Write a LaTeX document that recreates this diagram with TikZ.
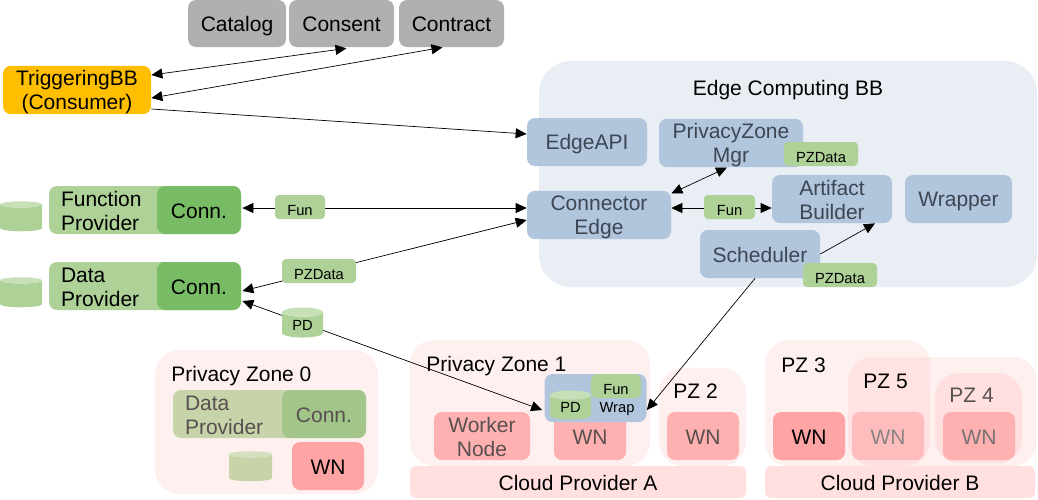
\documentclass[tikz,border=0pt]{standalone}
\usepackage{fontspec}
\setmainfont{Liberation Sans}
\usetikzlibrary{arrows.meta,calc,shapes.geometric}
\definecolor{greybox}{HTML}{B0B0B0}
\definecolor{amberbox}{HTML}{FFBF00}
\definecolor{edgebg}{HTML}{E9EEF5}
\definecolor{bluebox}{HTML}{B1C5DC}
\definecolor{bluetxt}{HTML}{3D4654}
\definecolor{greenbox}{HTML}{AED197}
\definecolor{greentop}{HTML}{C8E0B8}
\definecolor{connbox}{HTML}{78BD66}
\definecolor{fadegreen}{HTML}{C7D3A9}
\definecolor{fadeconn}{HTML}{A2C589}
\definecolor{fadecyl}{HTML}{C8D3A9}
\definecolor{fadecyltop}{HTML}{D5DFBF}
\definecolor{fadetxt}{HTML}{585050}
\definecolor{wnbox}{HTML}{FFB0B0}
\definecolor{wnstrong}{HTML}{FFA4A4}
\definecolor{cloudbox}{HTML}{FFDFDF}
\tikzset{
  big/.style={font=\fontsize{21}{24}\selectfont,
    execute at begin node={\rule{0pt}{20pt}},execute at end node={\rule[-4pt]{0pt}{4pt}}},
  small/.style={font=\fontsize{14.7}{17}\selectfont,
    execute at begin node={\rule{0pt}{20pt}},execute at end node={\rule[-4pt]{0pt}{4pt}}},
  title/.style={big,inner sep=0,anchor=west},
  box/.style={big,rounded corners=8,inner sep=0,align=center},
  label box/.style={small,rounded corners=4,inner sep=0,fill=greenbox,minimum height=24},
  zone/.style={rounded corners=24,inner sep=0,fill=red,fill opacity=0.06},
  wn/.style={box,minimum width=72,minimum height=48,text=fadetxt,fill=wnbox},
  store/.style={cylinder,shape border rotate=90,aspect=0.45,inner sep=0,minimum width=42,minimum height=30,
    cylinder uses custom fill,cylinder body fill=greenbox,cylinder end fill=greentop},
  provider/.style={box,fill=greenbox,minimum height=48,text width=168,inner xsep=12,align=left}
}
\begin{document}
\begin{tikzpicture}[x=1pt,y=-1pt,>={Triangle[length=11pt,width=10pt]},line width=0.7pt]
          \useasboundingbox (0,0) rectangle (1038,499);
          \node[box,fill=greybox,minimum width=98,minimum height=47] (Catalog) at (237,23.5) {Catalog};
          \node[box,fill=greybox,minimum width=105,minimum height=47] (Consent) at (341.5,23.5) {Consent};
          \node[box,fill=greybox,minimum width=105,minimum height=47] (Contract) at (451.5,23.5) {Contract};
          \node[box,fill=amberbox,text width=148,minimum height=48] (TBB) at (77,90) {TriggeringBB\\(Consumer)};
          % edge computing block
          \node[rounded corners=32,fill=edgebg,minimum width=498,minimum height=226,inner sep=0] (EdgeBB) at (788,174) {};
          \node[big,inner sep=0] (EdgeTitle) at (788,88) {Edge Computing BB};
          \node[box,fill=bluebox,text=bluetxt,minimum width=120,minimum height=48] (EdgeAPI) at (587,142) {EdgeAPI};
          \node[box,fill=bluebox,text=bluetxt,text width=144,minimum height=48] (PZMgr) at (731,143) {PrivacyZone\\Mgr};
          \node[box,fill=bluebox,text=bluetxt,text width=144,minimum height=48] (ConnEdge) at (599,215) {Connector\\Edge};
          \node[box,fill=bluebox,text=bluetxt,text width=120,minimum height=48] (Artifact) at (832,199) {Artifact\\Builder};
          \node[box,fill=bluebox,text=bluetxt,minimum width=107,minimum height=48] (Wrapper) at (958.5,199) {Wrapper};
          \node[box,fill=bluebox,text=bluetxt,minimum width=120,minimum height=48] (Scheduler) at (760,254) {Scheduler};
          % providers
          \node[store] (FunStore) at (21,218) {\phantom{PD}};
          \node[provider] (FunProv) at (145,210) {Function\\Provider};
          \node[box,fill=connbox,minimum width=84,minimum height=48] (FunConn) at (199,210) {Conn.};
          \node[store] (DataStore) at (21,294) {\phantom{PD}};
          \node[provider] (DataProv) at (145,286) {Data\\Provider};
          \node[box,fill=connbox,minimum width=84,minimum height=48] (DataConn) at (199,286) {Conn.};
          % privacy zone 0
          \node[zone,minimum width=223,minimum height=144] (PZ0) at (266.5,422) {};
          \node[title] (PZ0Title) at (171,374) {Privacy Zone 0};
          \node[provider,fill=fadegreen,text=fadetxt,text width=169] (PZ0Prov) at (269.5,414) {Data\\Provider};
          \node[box,fill=fadeconn,text=fadetxt,minimum width=84,minimum height=48] (PZ0Conn) at (324,414) {Conn.};
          \node[store,minimum width=43,cylinder body fill=fadecyl,cylinder end fill=fadecyltop] (PZ0Store) at (250.5,468) {\phantom{PD}};
          \node[box,fill=wnstrong,minimum width=72,minimum height=48] (PZ0WN) at (328,466) {WN};
          % cloud provider A
          \node[zone,minimum width=240,minimum height=126] (PZ1) at (530,403) {};
          \node[title] (PZ1Title) at (426,364) {Privacy Zone 1};
          \node[wn,text width=96] (Worker) at (482,436) {Worker\\Node};
          \node[wn] (PZ1WN) at (590,436) {WN};
          \node[box,fill=bluebox,minimum width=102,minimum height=48] (WrapBox) at (595.5,398) {};
          \node[label box,minimum width=50,rounded corners=6] (WrapFun) at (616,386) {Fun};
          \node[small,inner sep=0] (WrapTxt) at (617,404) {Wrap};
          \node[store,font=\fontsize{14.7}{17}\selectfont,minimum width=41,minimum height=29] (WrapPD) at (570.5,407.5) {\raisebox{-7pt}{PD}};
          \node[zone,minimum width=87,minimum height=98] (PZ2) at (702.5,417) {};
          \node[title] (PZ2Title) at (673,390) {PZ 2};
          \node[wn] (PZ2WN) at (703,436) {WN};
          \node[box,rounded corners=6,fill=cloudbox,minimum width=336,minimum height=32] (CloudA) at (578,482) {Cloud Provider A};
          % cloud provider B
          \node[zone,minimum width=165,minimum height=126] (PZ3) at (847.5,403) {};
          \node[zone,minimum width=189,minimum height=109] (PZ5) at (942.5,411.5) {};
          \node[zone,minimum width=87,minimum height=90,fill opacity=0.07] (PZ4) at (978.5,418) {};
          \node[title] (PZ3Title) at (781,364) {PZ 3};
          \node[title] (PZ5Title) at (863,380) {PZ 5};
          \node[title,text=fadetxt] (PZ4Title) at (949,394) {PZ 4};
          \node[box,fill=wnstrong,minimum width=72,minimum height=48] (PZ3WN) at (809,436) {WN};
          \node[wn,fill=wnbox!85!white,text=fadetxt!70!white] (PZ5WN) at (888,436) {WN};
          \node[wn,text=fadetxt!80!white] (PZ4WN) at (979,436) {WN};
          \node[box,rounded corners=6,fill=cloudbox,minimum width=270,minimum height=32] (CloudB) at (900,482) {Cloud Provider B};
          % connectors
          \path[<->] ($(TBB.east)+(0,-15)$) edge ($(Consent.south)+(5,1)$);
          \path[<->] ($(TBB.east)+(0,8)$) edge ($(Contract.south)+(-9,0)$);
          \path[->] ($(TBB.east)+(0,19)$) edge ($(EdgeAPI.west)+(0,-8)$);
          \path[<->] ($(FunConn.east)+(1,-2)$) edge ($(ConnEdge.west)+(0,-7)$);
          \path[<->] ($(DataConn.east)+(1,5)$) edge ($(ConnEdge.west)+(0,5)$);
          \path[<->] ($(DataConn.east)+(1,15)$) edge ($(WrapBox.west)+(-2,12)$);
          \path[<->] ($(ConnEdge.north east)+(0,3)$) edge ($(PZMgr.south)+(-4,0)$);
          \path[<->] ($(ConnEdge.east)+(0,-7)$) edge ($(Artifact.west)+(0,9)$);
          \path[->] (Scheduler.east) edge ($(Artifact.south)+(43,0)$);
          \path[->] ($(Scheduler.south)+(-5,0)$) edge ($(WrapBox.east)+(0,12)$);
          % labels sitting on the connectors
          \node[label box,minimum width=74] (MgrData) at (821,154) {PZData};
          \node[label box,minimum width=51] (EdgeFun) at (729.5,207) {Fun};
          \node[label box,minimum width=74] (SchedData) at (840,275) {PZData};
          \node[label box,minimum width=50] (ProvFun) at (300,207) {Fun};
          \node[label box,minimum width=74] (ProvData) at (319,271) {PZData};
          \node[store,font=\fontsize{14.7}{17}\selectfont,minimum width=41] (ProvPD) at (302.5,325) {\raisebox{-5pt}{PD}};
\end{tikzpicture}
\end{document}
